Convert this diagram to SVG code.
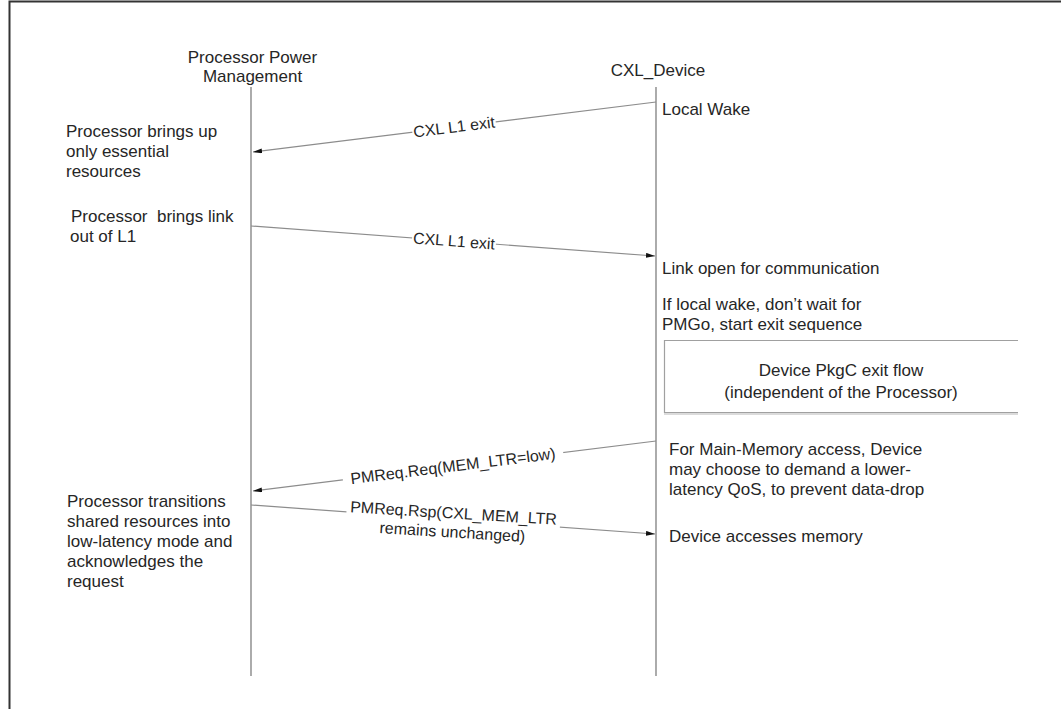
<svg xmlns="http://www.w3.org/2000/svg" width="1061" height="709" viewBox="0 0 1061 709">
<style>
text{font-family:"Liberation Sans",Arial,sans-serif;fill:#262626;white-space:pre}
.t{font-size:17px}
.h{font-size:17px;text-anchor:middle}
.lbl{font-size:16px;text-anchor:middle;dominant-baseline:central}
.life{stroke:#7f7f7f;stroke-width:1.3;fill:none}
.msg{stroke:#8c8c8c;stroke-width:1.2;fill:none;marker-end:url(#arr)}
.bg{fill:#fff}
</style>
<defs>
<marker id="arr" markerUnits="userSpaceOnUse" markerWidth="10" markerHeight="6" refX="9" refY="2.5" orient="auto">
<path d="M0,0 L9,2.5 L0,5 z" fill="#111"/>
</marker>
</defs>
<rect x="0" y="0" width="1061" height="709" fill="#fff"/>
<rect x="9.5" y="1.5" width="1100" height="800" fill="none" stroke="#333" stroke-width="2"/>

<g id="lifeline-processor">
<text class="h" x="252.5" y="63">Processor Power</text>
<text class="h" x="252.5" y="82">Management</text>
<line class="life" x1="251" y1="87" x2="251" y2="676"/>
</g>
<g id="lifeline-device">
<text class="h" x="658" y="76">CXL_Device</text>
<line class="life" x1="656" y1="87" x2="656" y2="676"/>
</g>

<g id="note-local-wake"><text class="t" x="662" y="115">Local Wake</text></g>
<g id="note-proc-essential">
<text class="t" x="66" y="137">Processor brings up</text>
<text class="t" x="66" y="157">only essential</text>
<text class="t" x="66" y="177">resources</text>
</g>
<g id="note-proc-link">
<text class="t" x="71" y="222">Processor  brings link</text>
<text class="t" x="70" y="242">out of L1</text>
</g>
<g id="note-link-open"><text class="t" x="662" y="274">Link open for communication</text></g>
<g id="note-local-wake-exit">
<text class="t" x="662" y="310">If local wake, don’t wait for</text>
<text class="t" x="662" y="330">PMGo, start exit sequence</text>
</g>
<g id="box-pkgc-exit">
<line x1="664" y1="414" x2="1018" y2="414" stroke="#cfcfcf" stroke-width="1.5"/>
<path d="M1018,340.5 H664.5 V412.5 H1018" fill="#fff" stroke="#a0a0a0" stroke-width="1.2"/>
<text class="h" x="841" y="376">Device PkgC exit flow</text>
<text class="h" x="841" y="398">(independent of the Processor)</text>
</g>
<g id="note-main-memory">
<text class="t" x="669" y="455">For Main-Memory access, Device</text>
<text class="t" x="669" y="475">may choose to demand a lower-</text>
<text class="t" x="669" y="495">latency QoS, to prevent data-drop</text>
</g>
<g id="note-proc-transitions">
<text class="t" x="67" y="507">Processor transitions</text>
<text class="t" x="67" y="527">shared resources into</text>
<text class="t" x="67" y="547">low-latency mode and</text>
<text class="t" x="67" y="567">acknowledges the</text>
<text class="t" x="67" y="587">request</text>
</g>
<g id="note-device-accesses"><text class="t" x="669" y="542">Device accesses memory</text></g>

<g id="connectors">
<line class="msg" x1="656" y1="102" x2="253" y2="152"/>
<g transform="translate(454,127) rotate(-7.07)">
<rect class="bg" x="-42" y="-9" width="84" height="18"/>
<text class="lbl" x="0" y="0">CXL L1 exit</text>
</g>
<line class="msg" x1="251" y1="226" x2="655" y2="256"/>
<g transform="translate(454,241) rotate(4.24)">
<rect class="bg" x="-42" y="-9" width="84" height="18"/>
<text class="lbl" x="0" y="0">CXL L1 exit</text>
</g>
<line class="msg" x1="656" y1="441" x2="253" y2="491"/>
<g transform="translate(453,466) rotate(-7.07)">
<rect class="bg" x="-111" y="-9" width="222" height="18"/>
<text class="lbl" x="0" y="0">PMReq.Req(MEM_LTR=low)</text>
</g>
<line class="msg" x1="251" y1="505" x2="655" y2="534"/>
<g transform="translate(453,522) rotate(3.5)">
<rect class="bg" x="-107" y="-19" width="214" height="40"/>
<text class="lbl" x="0" y="-9">PMReq.Rsp(CXL_MEM_LTR</text>
<text class="lbl" x="0" y="10">remains unchanged)</text>
</g>
</g>
</svg>
